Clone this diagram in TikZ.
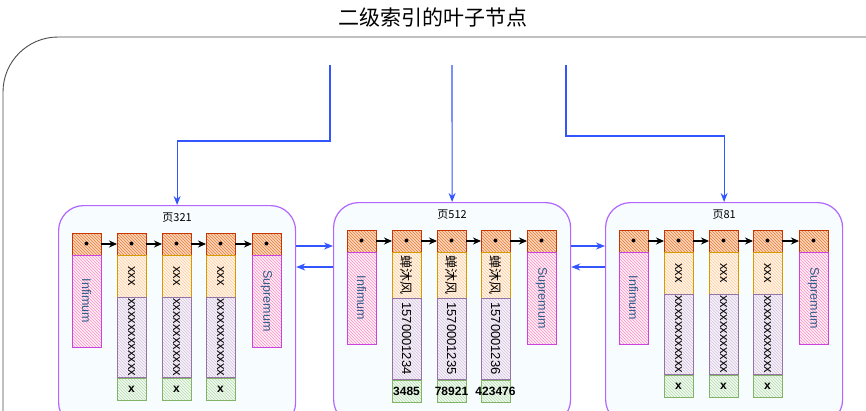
\documentclass[tikz,border=0pt]{standalone}
\usepackage{fontspec}
\setmainfont{Liberation Sans}
\newfontfamily\cjk{Noto Sans CJK SC}
\usepackage{graphicx}
\usetikzlibrary{arrows.meta,positioning,patterns}
\definecolor{ptrline}{HTML}{C73500}
\definecolor{ptrhatch}{HTML}{F07A30}
\definecolor{ptrfill}{HTML}{FBD8C0}
\definecolor{bndline}{HTML}{CC44DD}
\definecolor{bndhatch}{HTML}{FF8FC4}
\definecolor{bndfill}{HTML}{FFF0F7}
\definecolor{bndtext}{HTML}{2E5C8A}
\definecolor{keyline}{HTML}{D79B00}
\definecolor{keyhatch}{HTML}{FFCC99}
\definecolor{keyfill}{HTML}{FFF6EC}
\definecolor{idline}{HTML}{9673A6}
\definecolor{idhatch}{HTML}{D4C4E0}
\definecolor{idfill}{HTML}{F6F2F9}
\definecolor{hdrline}{HTML}{82B366}
\definecolor{hdrhatch}{HTML}{B5DBAE}
\definecolor{hdrfill}{HTML}{F2FAF1}
\definecolor{pageline}{HTML}{B266FF}
\definecolor{pagefill}{HTML}{F7FCFE}
\definecolor{linkblue}{HTML}{3355FF}
\tikzstyle{cell}=[draw, line width=1pt, inner sep=0pt, outer sep=0pt, minimum width=29pt]
\tikzstyle{ptr}=[cell, draw=ptrline, preaction={fill=ptrfill}, pattern=north west lines, pattern color=ptrhatch, minimum height=22pt]
\tikzstyle{bound}=[cell, draw=bndline, preaction={fill=bndfill}, pattern=north west lines, pattern color=bndhatch, minimum height=92pt, text=bndtext, font=\fontsize{12.5}{14}\selectfont]
\tikzstyle{keycell}=[cell, draw=keyline, preaction={fill=keyfill}, pattern=north west lines, pattern color=keyhatch, minimum height=42pt, font=\fontsize{13}{15}\selectfont]
\tikzstyle{idcell}=[cell, draw=idline, preaction={fill=idfill}, pattern=north west lines, pattern color=idhatch, minimum height=80pt, font=\fontsize{13}{15}\selectfont]
\tikzstyle{hdrcell}=[cell, draw=hdrline, preaction={fill=hdrfill}, pattern=north west lines, pattern color=hdrhatch, minimum height=22pt, font=\fontsize{12}{14}\selectfont\bfseries]
\tikzstyle{pagebox}=[draw=pageline, line width=1.2pt, fill=pagefill, rounded corners=25pt, minimum width=237pt, minimum height=222pt, anchor=north west]
\tikzstyle{pagetitle}=[font=\cjk\fontsize{11}{13}\selectfont, inner sep=0pt]
\tikzstyle{title}=[font=\cjk\fontsize{21}{24}\selectfont]
\tikzstyle{framebox}=[draw=black!70, line width=0.9pt, rounded corners=55pt]
\tikzstyle{link}=[draw=linkblue, line width=1.1pt, -{Stealth[length=9pt,width=7pt]}]
\tikzstyle{nextptr}=[draw=black, line width=1.1pt, -{Stealth[length=8pt,width=7pt]}]

\begin{document}
\begin{tikzpicture}[x=1pt, y=-1pt]
  \useasboundingbox (0,0) rectangle (866,410);
  \node[title] (title) at (433,17) {二级索引的叶子节点};
  \draw[framebox] (3,37) rectangle (930,480);

  % First the three pages
  \foreach \pos/\name/\lab in {{(58,205)/pa/页321}, {(333,202)/pb/页512}, {(605,202)/pc/页81}}
  {
    \node[pagebox] (\name) at \pos {};
    \node[pagetitle] (\name-t) at ([yshift=-13pt]\name.north) {\lab};
  }

  % Pointer row, Infimum and Supremum of every page
  \foreach \pg/\px/\py in {pa/72/233,pb/347/230,pc/619/230}
  {
    \foreach \i/\dx in {0/0,1/45,2/90,3/134,4/180}
      \node[ptr] (\pg\i) at (\px+14.5+\dx, \py+11) {$\bullet$};
    \foreach \i/\j in {0/1,1/2,2/3,3/4}
      \draw[nextptr] (\pg\i) -- (\pg\j);
    \node[bound, below=0pt of \pg0] (\pg-inf) {\rotatebox{-90}{Infimum}};
    \node[bound, below=0pt of \pg4] (\pg-sup) {\rotatebox{-90}{Supremum}};
  }

  % Records
  \foreach \pg in {pa,pc}
    \foreach \i in {1,2,3}
    {
      \node[keycell, below=0pt of \pg\i] (\pg-k\i) {\rotatebox{-90}{xxx}};
      \node[idcell, below=0pt of \pg-k\i] (\pg-v\i) {\rotatebox{-90}{xxxxxxxxxxxx}};
      \node[hdrcell, below=1pt of \pg-v\i] (\pg-h\i) {x};
    }
  \foreach \i/\id/\hdr in {1/1570001234/3485,2/1570001235/78921,3/1570001236/423476}
  {
    \node[keycell, minimum height=46pt, below=0pt of pb\i] (pb-k\i) {\rotatebox{-90}{\cjk 蝉沐风}};
    \node[idcell, minimum height=81pt, below=0pt of pb-k\i] (pb-v\i) {\rotatebox{-90}{\id}};
    \node[hdrcell, below=1pt of pb-v\i] (pb-h\i) {\makebox[0pt]{\hdr}};
  }

  % Links from the upper level and between pages
  \coordinate (ra) at (330,65);
  \coordinate (rb) at (452,65);
  \coordinate (rc) at (566,65);
  \draw[link] (ra) -- ++(0,76) -| (pa.north);
  \draw[link] (rb) -- (pb.north);
  \draw[link] (rc) -- ++(0,71) -| (pc.north);

  \coordinate (fw) at (0,246);
  \coordinate (bw) at (0,267);
  \draw[link] (pa.east |- fw) -- (pb.west |- fw);
  \draw[link] (pb.west |- bw) -- (pa.east |- bw);
  \draw[link] (pb.east |- fw) -- (pc.west |- fw);
  \draw[link] (pc.west |- bw) -- (pb.east |- bw);
\end{tikzpicture}
\end{document}
